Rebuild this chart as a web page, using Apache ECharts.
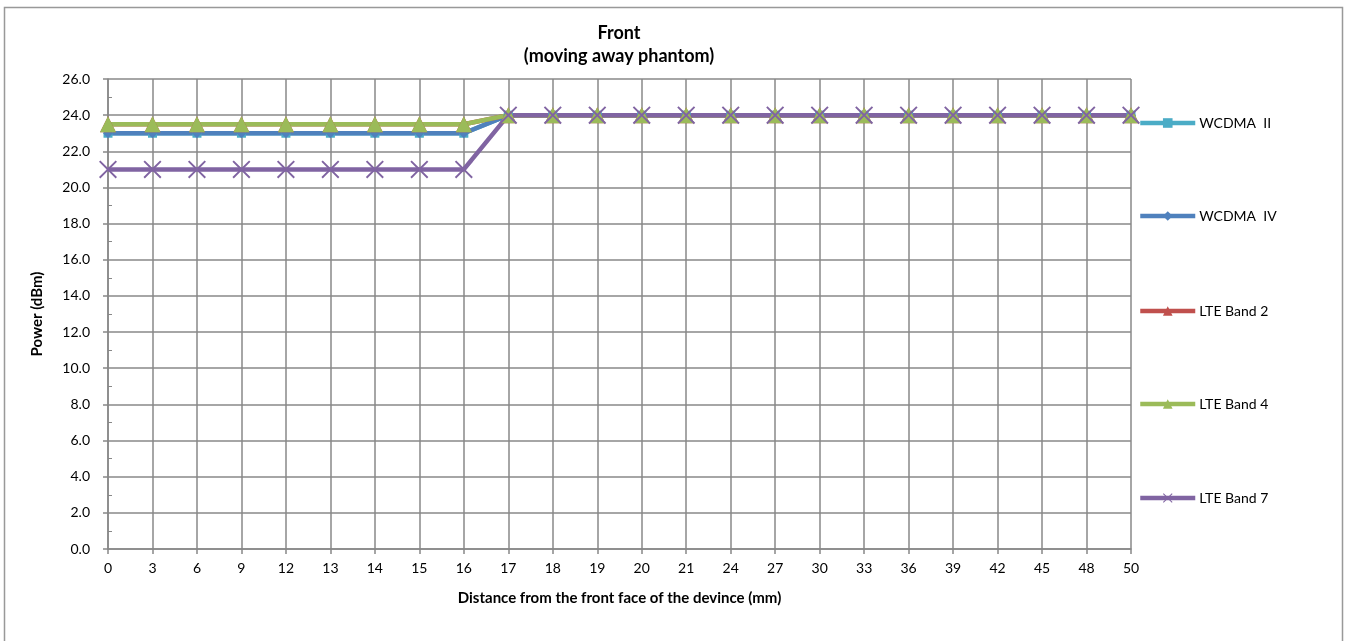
<!DOCTYPE html>
<html><head><meta charset="utf-8">
<script src="https://cdn.jsdelivr.net/npm/echarts@6/dist/echarts.min.js"></script>
<style>html,body{margin:0;padding:0;background:#fff}#c{width:1347px;height:641px}</style>
</head><body><div id="c"></div>
<script>
const categories = ['0','3','6','9','12','13','14','15','16','17','18','19','20','21','24','27','30','33','36','39','42','45','48','50'];
const wcdma2 = [23,23,23,23,23,23,23,23,23,24,24,24,24,24,24,24,24,24,24,24,24,24,24,24];
const wcdma4 = [23,23,23,23,23,23,23,23,23,24,24,24,24,24,24,24,24,24,24,24,24,24,24,24];
const lte2 = [23.5,23.5,23.5,23.5,23.5,23.5,23.5,23.5,23.5,24,24,24,24,24,24,24,24,24,24,24,24,24,24,24];
const lte4 = [23.5,23.5,23.5,23.5,23.5,23.5,23.5,23.5,23.5,24,24,24,24,24,24,24,24,24,24,24,24,24,24,24];
const lte7 = [21,21,21,21,21,21,21,21,21,24,24,24,24,24,24,24,24,24,24,24,24,24,24,24];
const seriesNames = ['WCDMA  II','WCDMA  IV','LTE Band 2','LTE Band 4','LTE Band 7'];

const FONT = 'Lato, "Open Sans", sans-serif';
const X = 'path://M0,1.5L1.5,0L10,8.5L18.5,0L20,1.5L11.5,10L20,18.5L18.5,20L10,11.5L1.5,20L0,18.5L8.5,10Z';
const chart = echarts.init(document.getElementById('c'), null, {renderer:'canvas'});
function mk(name, data, color, symbol, size){
  return {name, type:'line', data, color, symbol, symbolSize:size, symbolKeepAspect:true,
    lineStyle:{width:4.5,color}, itemStyle:{color}, showAllSymbol:true, animation:false, z:2};
}
const legendTops = [123, 216, 311, 404, 498];
const legends = seriesNames.map((n,i)=>({orient:'vertical', left:1138, top:legendTops[i]-8, padding:0,
  itemWidth:55, itemHeight:12, itemStyle:{}, lineStyle:{width:4.5},
  textStyle:{fontSize:14, color:'#000', fontFamily:FONT, padding:[0,0,0,-1], lineHeight:16},
  data:[n]}));
chart.setOption({
  animation:false,
  textStyle:{fontFamily:FONT},
  title:{text:'Front\n(moving away phantom)', left:614, textAlign:'center', top:17,
    textStyle:{fontSize:18, fontWeight:'bold', color:'#000', fontFamily:FONT, lineHeight:23}},
  graphic:[{type:'rect', shape:{x:4.5,y:7.5,width:1338,height:640}, style:{fill:'none', stroke:'#999', lineWidth:1.5}, silent:true}],
  grid:{left:108, right:216, top:79, bottom:92, containLabel:false},
  legend:legends,
  xAxis:{type:'category', data:categories, boundaryGap:false,
    name:'Distance from the front face of the devince (mm)', nameLocation:'middle', nameGap:42,
    nameTextStyle:{fontSize:15, fontWeight:'bold', color:'#000', fontFamily:FONT},
    axisLine:{lineStyle:{color:'#888', width:1.5}},
    axisTick:{show:true, alignWithLabel:true, length:5, lineStyle:{color:'#888', width:1.5}},
    axisLabel:{fontSize:14, color:'#000', margin:12, fontFamily:FONT, interval:0},
    splitLine:{show:true, lineStyle:{color:'#888', width:1.5}}},
  yAxis:{type:'value', min:0, max:26, interval:2,
    name:'Power (dBm)', nameLocation:'middle', nameGap:63, nameRotate:90,
    nameTextStyle:{fontSize:15, fontWeight:'bold', color:'#000', fontFamily:FONT},
    axisLine:{show:true, lineStyle:{color:'#888', width:1.5}},
    axisTick:{show:true, length:5, lineStyle:{color:'#888', width:1.5}},
    minorTick:{show:true, splitNumber:2, length:-4, lineStyle:{color:'#888', width:1}},
    axisLabel:{fontSize:14, color:'#000', margin:18, fontFamily:FONT, formatter:v=>v.toFixed(1)},
    splitLine:{show:true, lineStyle:{color:'#888', width:1.5}}},
  series:[
    mk(seriesNames[0], wcdma2, '#4BACC6', 'rect', 9),
    mk(seriesNames[1], wcdma4, '#4F81BD', 'diamond', 10),
    mk(seriesNames[2], lte2, '#C0504D', 'triangle', 16),
    mk(seriesNames[3], lte4, '#9BBB59', 'triangle', 16),
    mk(seriesNames[4], lte7, '#8064A2', X, 18)
  ]
});
</script></body></html>
